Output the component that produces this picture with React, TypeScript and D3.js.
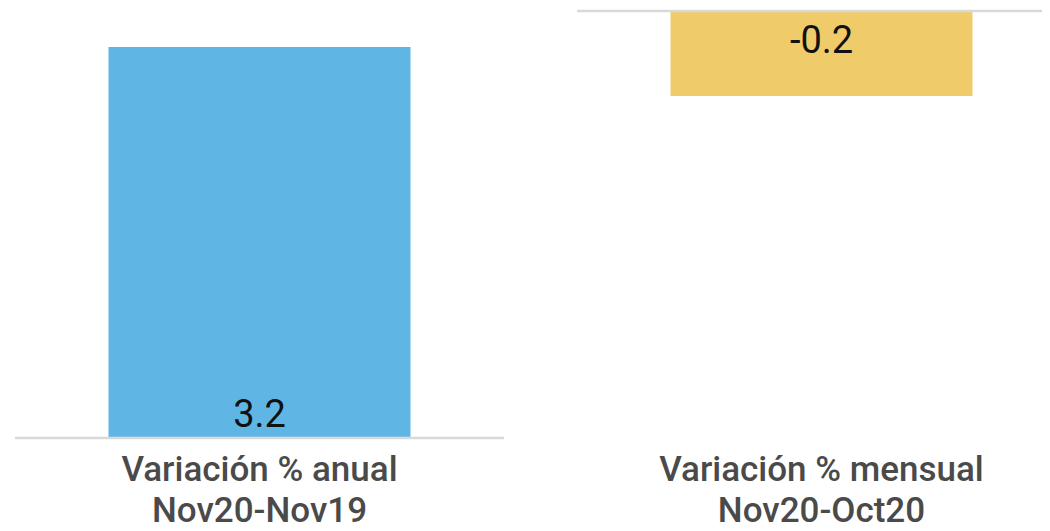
import React, { useEffect, useRef } from 'react';
import * as d3 from 'd3';

// one panel per measure, each with its own value axis
const measures = ['Variación % anual', 'Variación % mensual'];
const periods = ['Nov20-Nov19', 'Nov20-Oct20'];
const values = [3.2, -0.2];
const colors = ['#5fb6e5', '#efcb69'];

const App: React.FC = () => {
  const svgRef = useRef<SVGSVGElement>(null);

  useEffect(() => {
    if (!svgRef.current) return;
    d3.select(svgRef.current).selectAll('*').remove();

    const W = 1050;
    const H = 531;
    const svg = d3.select(svgRef.current).attr('width', W).attr('height', H);

    const panelW = 489;
    const panelGap = 562;

    // per-panel y ranges (independent axes)
    const yRanges: [number, number][] = [[437, 47], [96, 12]];
    const fmt = (v: number) => d3.format('.1f')(v).replace('\u2212', '-');

    values.forEach((v, i) => {
      const g = svg.append('g').attr('transform', `translate(${15 + i * panelGap},0)`);
      const x = d3.scaleBand<string>().domain([measures[i]]).range([0, panelW]).padding(0.2364);
      const y = d3.scaleLinear().domain([Math.min(0, v), Math.max(0, v)]).range(yRanges[i]);

      g.append('rect')
        .attr('x', x(measures[i])!)
        .attr('width', x.bandwidth())
        .attr('y', Math.min(y(0), y(v)))
        .attr('height', Math.abs(y(v) - y(0)))
        .attr('fill', colors[i]);

      g.append('line')
        .attr('x1', 0)
        .attr('x2', panelW)
        .attr('y1', y(0) + (v >= 0 ? 1 : -1))
        .attr('y2', y(0) + (v >= 0 ? 1 : -1))
        .attr('stroke', '#d9d9d9')
        .attr('stroke-width', 2.5);

      const cx = x(measures[i])! + x.bandwidth() / 2;
      g.append('text')
        .attr('x', cx)
        .attr('y', v >= 0 ? y(0) - 10 : y(0) + 41)
        .attr('text-anchor', 'middle')
        .attr('font-family', 'Roboto, sans-serif')
        .attr('font-size', 38)
        .attr('fill', '#111')
        .text(fmt(v));

      const lbl = g.append('text')
        .attr('text-anchor', 'middle')
        .attr('font-family', 'Roboto, sans-serif')
        .attr('font-weight', 500)
        .attr('font-size', 35)
        .attr('fill', '#4a4a4a');
      lbl.append('tspan').attr('x', cx).attr('y', 481).text(measures[i]);
      lbl.append('tspan').attr('x', cx).attr('y', 522).text(periods[i]);
    });
  }, []);

  return (
    <div style={{ margin: -8, width: 1050, height: 531, background: '#fff' }}>
      <svg ref={svgRef} style={{ display: 'block' }}></svg>
    </div>
  );
};

export default App;
